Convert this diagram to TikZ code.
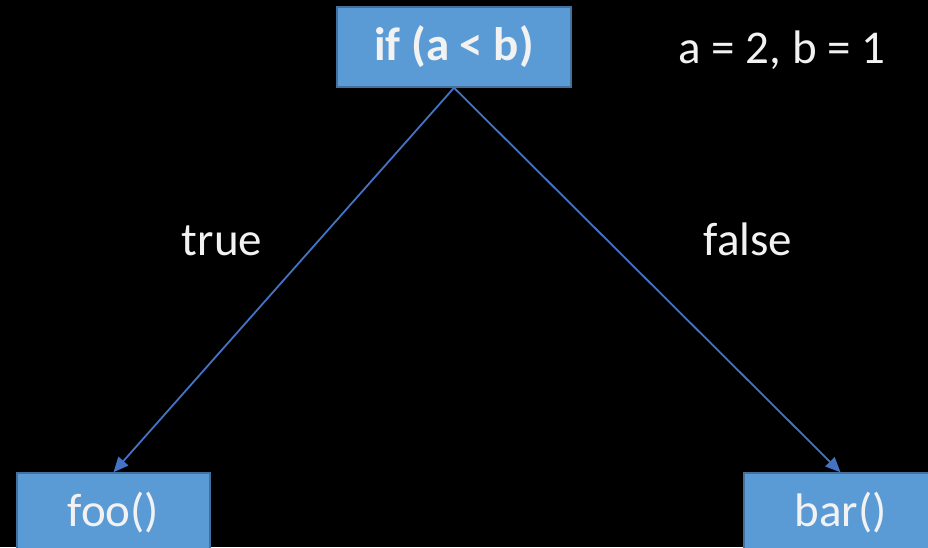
\documentclass[tikz,border=0pt]{standalone}
\usepackage{fontspec}
\setmainfont{Carlito}
\usepackage{xcolor}
\usepackage{tikz}
\usetikzlibrary{arrows.meta, calc}

\definecolor{boxfill}{HTML}{5B9BD5}
\definecolor{boxline}{HTML}{41719C}
\definecolor{edgeblue}{HTML}{4472C4}
\definecolor{lighttext}{HTML}{F2F2F2}

\begin{document}
\begin{tikzpicture}[x=1pt, y=-1pt,
    codebox/.style={draw=boxline, line width=1.5pt, fill=boxfill, text=lighttext,
      font=\fontsize{47}{56}\selectfont, inner sep=0pt},
    plain/.style={text=lighttext, font=\fontsize{47}{56}\selectfont, inner sep=0pt},
    branch/.style={edgeblue, line width=1.8pt, -{Triangle[length=15pt, width=13pt]}}]
                % page and background
                \useasboundingbox (0,0) rectangle (928,547);
                \clip (0,0) rectangle (928,547);
                \fill[black] (0,0) rectangle (928,547);

                % Draw boxes
                \node[codebox, minimum width=234pt, minimum height=80pt, font=\fontsize{47}{56}\selectfont\bfseries] (cond) at (454,47) {if (a < b)};
                \node[codebox, minimum width=193pt, minimum height=80pt] (foo) at (113.5,513) {foo()};
                \node[codebox, minimum width=193pt, minimum height=80pt] (bar) at (840.5,513) {bar()};

                % % Add labels
                \node[plain, anchor=base] (vals) at (782,63) {a = 2, b = 1};
                \node[plain, anchor=base] (truelbl) at (222,255) {true};
                \node[plain, anchor=base] (falselbl) at (748,255) {false};

                % Draw branches
                \draw[branch] (cond.south) -- (foo.north);
                \draw[branch] (cond.south) -- (bar.north);
            \end{tikzpicture}
\end{document}
